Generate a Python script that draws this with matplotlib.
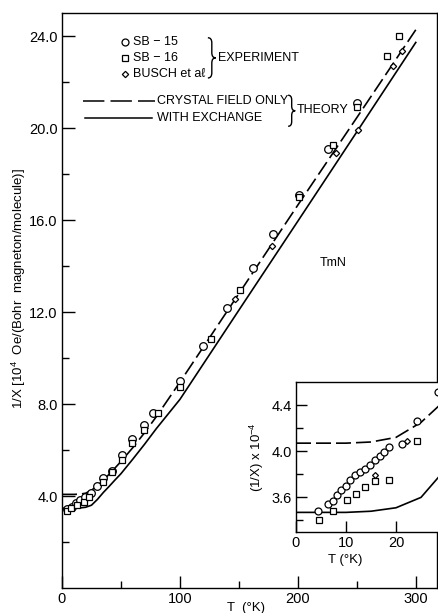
import matplotlib
matplotlib.use('Agg')
import matplotlib.pyplot as plt
from matplotlib.path import Path
from matplotlib.patches import PathPatch
from matplotlib.ticker import FixedLocator, FormatStrFormatter

plt.rcParams['font.family'] = ['Liberation Sans', 'DejaVu Sans']

# main panel data (T in K, 1/chi in 10^4 units)
sb15_T = [4.5, 8.2, 11.6, 15.3, 19.5, 24.6, 30, 35, 42, 50.5, 59.6, 69.8, 77.4, 100, 119.8, 140, 161.6, 179, 201, 225.7, 250]
sb15_V = [3.45, 3.53, 3.68, 3.83, 3.97, 4.12, 4.43, 4.77, 5.1, 5.78, 6.5, 7.1, 7.6, 9.0, 10.52, 12.16, 13.9, 15.4, 17.1, 19.1, 21.07]
sb16_T = [4, 8, 13, 19, 23, 35, 42, 50.5, 59.6, 69.8, 81, 100, 126, 150.8, 201, 230, 250, 275.7, 286]
sb16_V = [3.36, 3.48, 3.6, 3.75, 3.95, 4.6, 5.05, 5.57, 6.3, 6.87, 7.62, 8.75, 10.83, 12.96, 16.98, 19.26, 20.93, 23.13, 23.99]
busch_T = [147, 178, 232, 251, 280.8, 287.9]
busch_V = [12.55, 14.85, 18.9, 19.9, 22.7, 23.36]

# theory curves
cf_T = [0, 10, 15, 20, 25, 30, 35, 40, 45, 50, 60, 70, 80, 100, 150, 200, 250, 300]
cf_V = [4.07, 4.07, 4.08, 4.12, 4.25, 4.45, 4.68, 4.95, 5.22, 5.5, 6.1, 6.75, 7.45, 8.95, 12.8, 16.65, 20.45, 24.27]
ex_T = [0, 10, 15, 20, 25, 30, 35, 40, 45, 50, 60, 70, 80, 100, 150, 200, 250, 300]
ex_V = [3.47, 3.47, 3.48, 3.51, 3.6, 3.85, 4.15, 4.42, 4.7, 4.97, 5.6, 6.25, 6.93, 8.2, 12.08, 15.95, 19.83, 23.72]

# inset data (low temperature)
in15_T = [4.3, 6.3, 7.3, 8.1, 9.0, 9.9, 10.8, 11.7, 12.7, 13.7, 14.7, 15.7, 16.7, 17.5, 18.5, 21.2, 24.2, 28.3]
in15_V = [3.48, 3.54, 3.57, 3.62, 3.66, 3.70, 3.75, 3.79, 3.82, 3.85, 3.88, 3.92, 3.96, 3.99, 4.04, 4.06, 4.26, 4.51]
in16_T = [4.5, 7.3, 10.1, 11.9, 13.8, 15.8, 18.6, 24.1]
in16_V = [3.40, 3.48, 3.58, 3.63, 3.69, 3.74, 3.75, 4.09]
inb_T = [15.8, 22.1]
inb_V = [3.79, 4.09]


def brace(ax, x, y0, y1, w, r):
    # thin curly brace in axes fraction coords
    ym = (y0 + y1) / 2
    xm = x + w / 2
    verts = [(x, y1), (xm, y1), (xm, y1 - r), (xm, ym + r), (xm, ym), (x + w, ym),
             (xm, ym), (xm, ym - r), (xm, y0 + r), (xm, y0), (x, y0)]
    codes = [Path.MOVETO, Path.CURVE3, Path.CURVE3, Path.LINETO, Path.CURVE3, Path.CURVE3,
             Path.CURVE3, Path.CURVE3, Path.LINETO, Path.CURVE3, Path.CURVE3]
    ax.add_patch(PathPatch(Path(verts, codes), fc='none', ec='k', lw=1.0,
                           transform=ax.transAxes, clip_on=False))


fig = plt.figure(figsize=(4.38, 6.13), dpi=100)
ax = fig.add_axes([62/438, 25/613, 375/438, 575/613])

dash = (9, 3)
ax.plot(cf_T, cf_V, color='k', lw=1.2, dashes=dash)
ax.plot(ex_T, ex_V, color='k', lw=1.2)
mk = dict(ls='none', mfc='white', mec='k', mew=0.9)
ax.plot(sb15_T, sb15_V, 'o', ms=5.5, **mk)
ax.plot(sb16_T, sb16_V, 's', ms=5, **mk)
ax.plot(busch_T, busch_V, 'D', ms=3.2, **mk)

ax.set_xlim(0, 318)
ax.set_ylim(0, 25)
ax.xaxis.set_major_locator(FixedLocator([0, 100, 200, 300]))
ax.xaxis.set_minor_locator(FixedLocator([50, 150, 250]))
ax.yaxis.set_major_locator(FixedLocator([4, 8, 12, 16, 20, 24]))
ax.yaxis.set_minor_locator(FixedLocator([2, 6, 10, 14, 18, 22]))
ax.yaxis.set_major_formatter(FormatStrFormatter('%.1f'))
ax.tick_params(which='major', direction='in', length=9, width=1, labelsize=10.5, pad=3)
ax.tick_params(which='minor', direction='in', length=5, width=1)
for s in ax.spines.values():
    s.set_linewidth(1.0)

ax.set_xlabel('T  (°K)', fontsize=9.5)
ax.xaxis.set_label_coords(0.49, -0.024)
ax.set_ylabel('1/X [$\\mathregular{10^4}$  Oe/(Bohr  magneton/molecule)]', fontsize=9.5)
ax.yaxis.set_label_coords(-0.09, 0.52)

# legend drawn by hand
tr = ax.transAxes
ax.plot([0.168], [0.950], 'o', ms=5, transform=tr, **mk)
ax.plot([0.168], [0.922], 's', ms=4.5, transform=tr, **mk)
ax.plot([0.168], [0.894], 'D', ms=3.2, transform=tr, **mk)
ax.text(0.19, 0.950, 'SB − 15', transform=tr, fontsize=9, va='center')
ax.text(0.19, 0.922, 'SB − 16', transform=tr, fontsize=9, va='center')
ax.text(0.19, 0.894, 'BUSCH et aℓ', transform=tr, fontsize=9, va='center')
brace(ax, 0.389, 0.887, 0.957, 0.021, 0.009)
ax.text(0.416, 0.922, 'EXPERIMENT', transform=tr, fontsize=9, va='center')
ax.plot([0.056, 0.248], [0.847, 0.847], color='k', lw=1.1, dashes=(14, 4), transform=tr)
ax.plot([0.061, 0.240], [0.817, 0.817], color='k', lw=1.1, transform=tr)
ax.text(0.253, 0.847, 'CRYSTAL FIELD ONLY', transform=tr, fontsize=9, va='center')
ax.text(0.253, 0.817, 'WITH EXCHANGE', transform=tr, fontsize=9, va='center')
brace(ax, 0.603, 0.803, 0.857, 0.019, 0.008)
ax.text(0.626, 0.832, 'THEORY', transform=tr, fontsize=9, va='center')
ax.text(0.688, 0.565, 'TmN', transform=tr, fontsize=9, va='center')

# inset
ins = fig.add_axes([296/438, 81/613, 150/438, 150/613])
ins.set_facecolor('white')
ins.plot(cf_T, cf_V, color='k', lw=1.2, dashes=dash)
ins.plot(ex_T, ex_V, color='k', lw=1.2)
ins.plot(in15_T, in15_V, 'o', ms=5, **mk)
ins.plot(in16_T, in16_V, 's', ms=4.5, **mk)
ins.plot(inb_T, inb_V, 'D', ms=3, **mk)
ins.set_xlim(0, 30)
ins.set_ylim(3.3, 4.6)
ins.xaxis.set_major_locator(FixedLocator([0, 10, 20]))
ins.yaxis.set_major_locator(FixedLocator([3.6, 4.0, 4.4]))
ins.yaxis.set_minor_locator(FixedLocator([3.4, 3.8, 4.2]))
ins.yaxis.set_major_formatter(FormatStrFormatter('%.1f'))
ins.tick_params(which='major', direction='in', length=8, width=1, labelsize=10.5, pad=3)
ins.tick_params(which='minor', direction='in', length=5, width=1)
ins.set_xlabel('T (°K)', fontsize=9.5)
ins.xaxis.set_label_coords(0.33, -0.15)
ins.set_ylabel('(1/X) x $\\mathregular{10^{-4}}$', fontsize=9.5)
ins.yaxis.set_label_coords(-0.20, 0.5)
for s in ins.spines.values():
    s.set_linewidth(1.0)

fig.savefig('out.png', dpi=100)
